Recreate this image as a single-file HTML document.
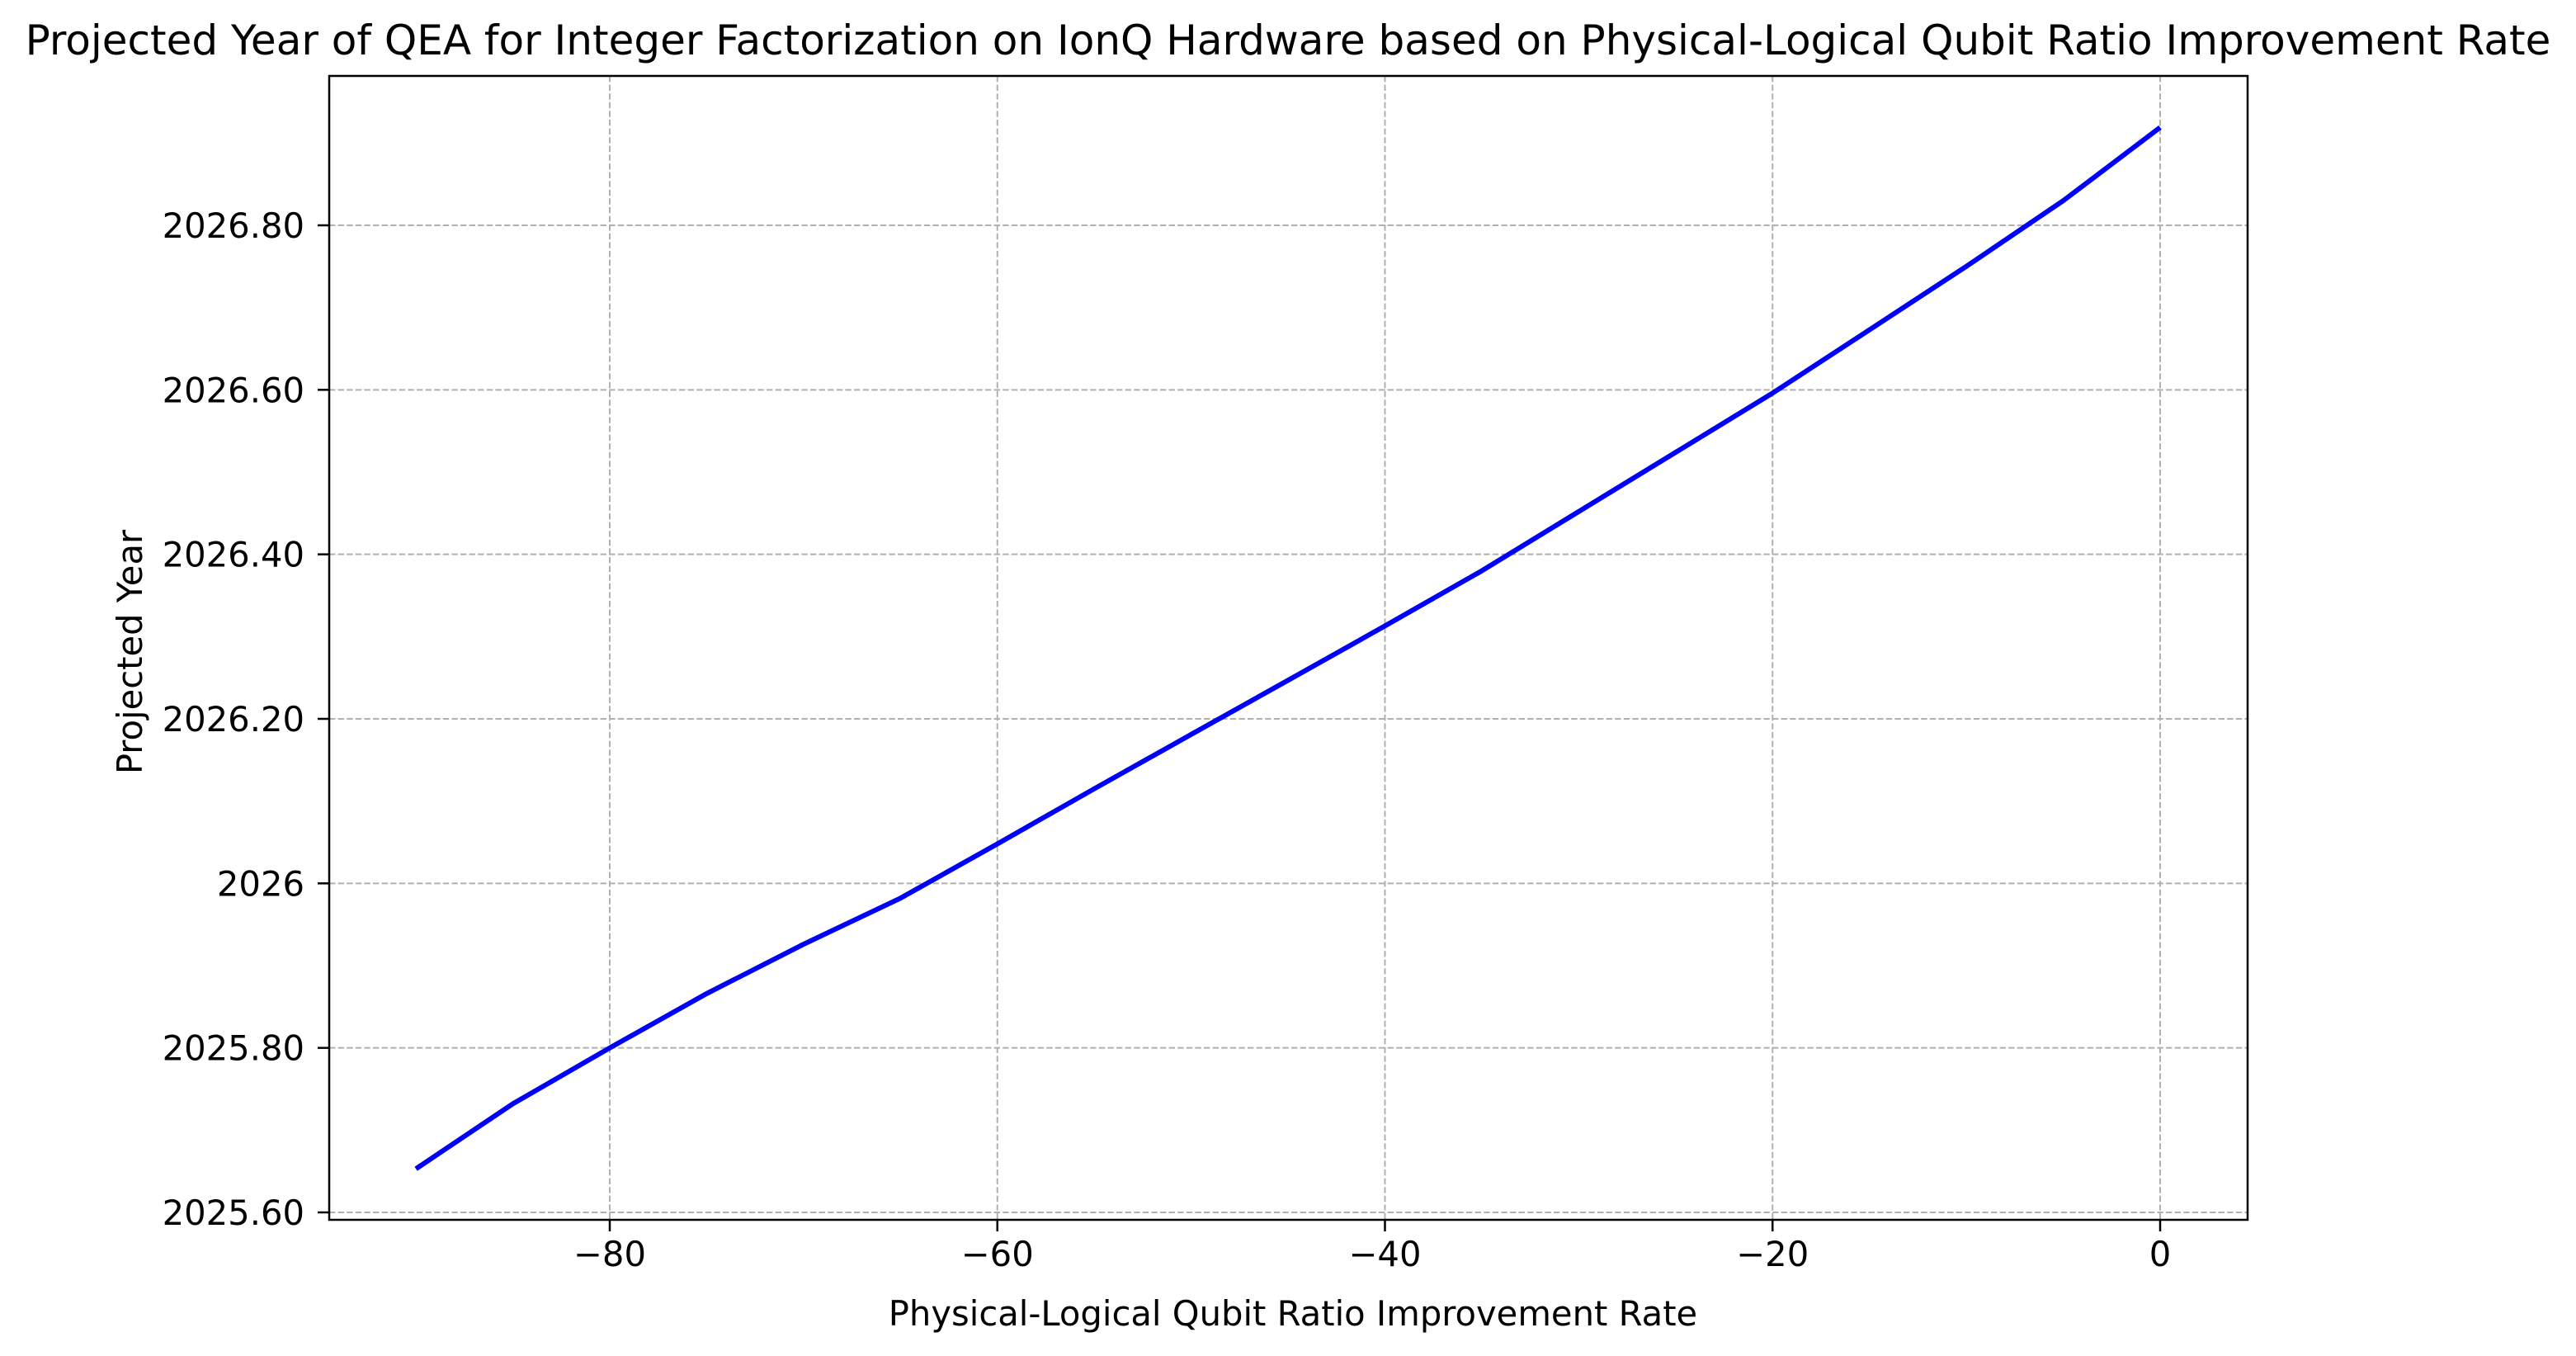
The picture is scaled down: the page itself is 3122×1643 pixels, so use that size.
<!DOCTYPE html>
<html><head><meta charset="utf-8"><style>
html,body{margin:0;padding:0;background:#fff;}
svg text{font-family:"DejaVu Sans","Liberation Sans",sans-serif;fill:#000;}
</style></head><body>
<svg id="chart" width="3122" height="1638" viewBox="0 0 3122 1638" xmlns="http://www.w3.org/2000/svg">
<rect width="3122" height="1638" fill="#fff"/>
<g id="grid"></g>
<g id="axes"></g>
<path id="series" fill="none" stroke="#0000ff" stroke-width="6" stroke-linejoin="round"/>
<rect x="399" y="92" width="2325" height="1386" fill="none" stroke="#000" stroke-width="2.5"/>
<text x="1561" y="66" font-size="50" text-anchor="middle">Projected Year of QEA for Integer Factorization on IonQ Hardware based on Physical-Logical Qubit Ratio Improvement Rate</text>
<text x="1567" y="1606" font-size="41.7" text-anchor="middle">Physical-Logical Qubit Ratio Improvement Rate</text>
<text transform="translate(172,790) rotate(-90)" font-size="41.7" text-anchor="middle">Projected Year</text>
</svg>
<script>
const rates = [-90,-85,-80,-75,-70,-65,-60,-55,-50,-45,-40,-35,-30,-25,-20,-15,-10,-5,0];
const years = [2025.653,2025.732,2025.80,2025.866,2025.926,2025.982,2026.048,2026.115,2026.181,2026.247,2026.313,2026.38,2026.452,2026.524,2026.596,2026.673,2026.75,2026.83,2026.919];
const xTicks = [-80,-60,-40,-20,0];
const xTickLabels = ["\u221280","\u221260","\u221240","\u221220","0"];
const yTicks = [2025.6,2025.8,2026.0,2026.2,2026.4,2026.6,2026.8];
const yTickLabels = ["2025.60","2025.80","2026","2026.20","2026.40","2026.60","2026.80"];

const NS="http://www.w3.org/2000/svg";
function xs(v){return 739+(v+80)*(2618-739)/80;}
function ys(v){return 1469-(v-2025.6)*(1469-273)/1.2;}
const grid=document.getElementById('grid'),axes=document.getElementById('axes');
function mk(tag,attrs,parent){const e=document.createElementNS(NS,tag);for(const k in attrs)e.setAttribute(k,attrs[k]);parent.appendChild(e);return e;}
xTicks.forEach((t,i)=>{
  const x=xs(t);
  const g=mk('line',{x1:x,x2:x,y1:92,y2:1478,stroke:'#b0b0b0','stroke-width':2,'stroke-dasharray':'7.4,3.2'},grid);
  
  
  const tk=mk('line',{x1:x,x2:x,y1:1478,y2:1492,stroke:'#000','stroke-width':2.5},axes);
  
  
  const tx=mk('text',{x:x,y:1534,'font-size':41.7,'text-anchor':'middle'},axes);
  tx.textContent=xTickLabels[i];
  
  
});
yTicks.forEach((t,i)=>{
  const y=ys(t);
  const g=mk('line',{x1:399,x2:2724,y1:y,y2:y,stroke:'#b0b0b0','stroke-width':2,'stroke-dasharray':'7.4,3.2'},grid);
  
  
  const tk=mk('line',{x1:385,x2:399,y1:y,y2:y,stroke:'#000','stroke-width':2.5},axes);
  
  
  const tx=mk('text',{x:369,y:y+15,'font-size':41.7,'text-anchor':'end'},axes);
  tx.textContent=yTickLabels[i];
  
  
});
document.getElementById('series').setAttribute('d',rates.map((r,i)=>(i?'L':'M')+xs(r).toFixed(1)+','+ys(years[i]).toFixed(1)).join(' '));
</script>
</body></html>
